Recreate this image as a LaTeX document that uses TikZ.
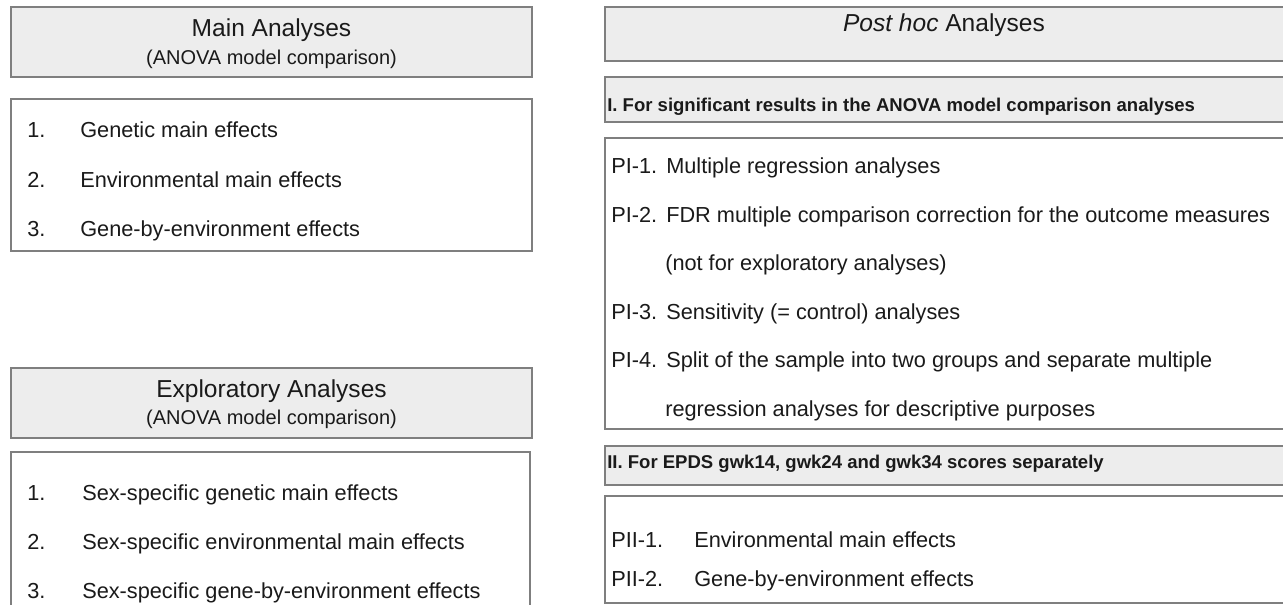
\documentclass[tikz,border=0pt]{standalone}
\usepackage{fontspec}
\setmainfont{Liberation Sans}
\definecolor{boxline}{HTML}{7F7F7F}
\definecolor{hdrfill}{HTML}{EDEDED}
\definecolor{ink}{HTML}{1A1A1A}

\begin{document}
\begin{tikzpicture}[x=0.75pt,y=-0.75pt,
  hdr/.style={draw=boxline,fill=hdrfill,line width=1.2pt},
  lst/.style={draw=boxline,fill=white,line width=1.2pt},
  ttl/.style={anchor=base,inner sep=0pt,text=ink,font=\fontsize{18.4}{20}\selectfont},
  subttl/.style={anchor=base,inner sep=0pt,text=ink,font=\fontsize{15}{17}\selectfont},
  itm/.style={anchor=base west,inner sep=0pt,text=ink,font=\fontsize{16.3}{18}\selectfont},
  sect/.style={anchor=base west,inner sep=0pt,text=ink,font=\bfseries\fontsize{13.9}{16}\selectfont}]
\useasboundingbox (0,0) rectangle (1283,605);
\clip (0,0) rectangle (1283,605);
\fill[white] (0,0) rectangle (1283,605);

% ---------- left column: main analyses ----------
\draw[hdr] (11,7) rectangle (532,77);
\node[ttl] (mainT) at (271.5,37) {Main Analyses};
\node[subttl] (mainS) at (271.5,65) {(ANOVA model comparison)};

\draw[lst] (11,99) rectangle (532,251);
\node[itm] (m1n) at (27,138) {1.};
\node[itm] (m1t) at (80,138) {Genetic main effects};
\node[itm] (m2n) at (27,188) {2.};
\node[itm] (m2t) at (80,188) {Environmental main effects};
\node[itm] (m3n) at (27,237) {3.};
\node[itm] (m3t) at (80,237) {Gene-by-environment effects};

% ---------- left column: exploratory analyses ----------
\draw[hdr] (11,368) rectangle (532,438);
\node[ttl] (expT) at (271.5,398) {Exploratory Analyses};
\node[subttl] (expS) at (271.5,425) {(ANOVA model comparison)};

\draw[lst] (11,452) rectangle (530,615);
\node[itm] (e1n) at (27,501) {1.};
\node[itm] (e1t) at (82,501) {Sex-specific genetic main effects};
\node[itm] (e2n) at (27,550) {2.};
\node[itm] (e2t) at (82,550) {Sex-specific environmental main effects};
\node[itm] (e3n) at (27,599) {3.};
\node[itm] (e3t) at (82,599) {Sex-specific gene-by-environment effects};

% ---------- right column: post hoc analyses ----------
\draw[hdr] (605,7) rectangle (1295,61);
\node[ttl] (phT) at (944,32) {\textit{Post hoc} Analyses};

\draw[hdr] (605,77) rectangle (1295,122);
\node[sect] (s1) at (607,112) {I. For significant results in the ANOVA model comparison analyses};

\draw[lst] (605,138) rectangle (1295,429);
\node[itm] (p1n) at (611,174) {PI-1.};
\node[itm] (p1t) at (666,174) {Multiple regression analyses};
\node[itm] (p2n) at (611,222.5) {PI-2.};
\node[itm] (p2t) at (666,222.5) {FDR multiple comparison correction for the outcome measures};
\node[itm] (p2c) at (665,271) {(not for exploratory analyses)};
\node[itm] (p3n) at (611,319.5) {PI-3.};
\node[itm] (p3t) at (666,319.5) {Sensitivity (= control) analyses};
\node[itm] (p4n) at (611,368) {PI-4.};
\node[itm] (p4t) at (666,368) {Split of the sample into two groups and separate multiple};
\node[itm] (p4c) at (665,416.5) {regression analyses for descriptive purposes};

\draw[hdr] (605,446) rectangle (1295,485);
\node[sect] (s2) at (607,469) {II. For EPDS gwk14, gwk24 and gwk34 scores separately};

\draw[lst] (605,496) rectangle (1295,603);
\node[itm] (q1n) at (611,548) {PII-1.};
\node[itm] (q1t) at (694,548) {Environmental main effects};
\node[itm] (q2n) at (611,587) {PII-2.};
\node[itm] (q2t) at (694,587) {Gene-by-environment effects};
\end{tikzpicture}
\end{document}
